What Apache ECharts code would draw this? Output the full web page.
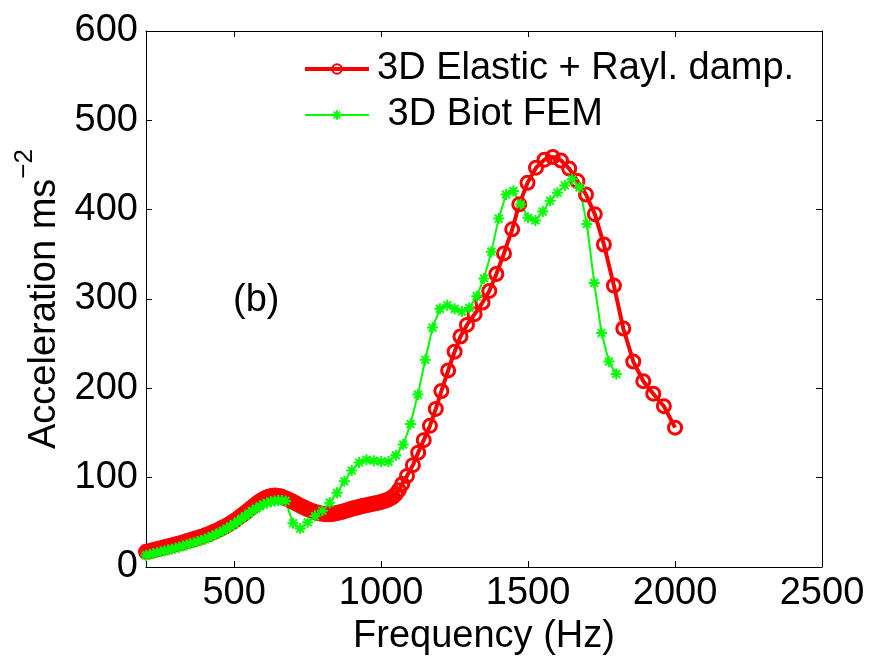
<!DOCTYPE html>
<html>
<head>
<meta charset="utf-8">
<script src="https://cdn.jsdelivr.net/npm/echarts@6/dist/echarts.min.js"></script>
<style>
html,body{margin:0;padding:0;background:#fff;}
#c{width:872px;height:662px;}
</style>
</head>
<body>
<div id="c"></div>
<script>
// ---- data ----
var xTicks = [500, 1000, 1500, 2000, 2500];
var yTicks = [0, 100, 200, 300, 400, 500, 600];

var elasticName = '3D Elastic + Rayl. damp.';
var elasticFreq = [200,210,220,230,240,250,260,270,280,290,300,310,320,330,340,350,360,370,380,390,
  400,410,420,430,440,450,460,470,480,490,500,510,520,530,540,550,560,570,580,590,
  600,610,620,630,640,650,660,670,680,690,700,710,720,730,740,750,760,770,780,790,
  800,810,820,830,840,850,860,870,880,890,900,910,920,930,940,950,960,970,980,990,
  1000,1010,1020,1030,1040,1050,1060,
  1072,1088,1108,1126,1145,1166,1186,1205,1228,1250,1270,1292,1318,1345,1368,1392,1418,1446,1470,1498,
  1527,1556,1584,1612,1640,1668,1697,1727,1758,1792,1824,1858,1892,1926,1962,2000];
var elasticAcc = [17,17.7,18.4,19.3,20.1,21,21.8,22.6,23.5,24.4,25.3,26.1,27,28,29,30,31,32,33,34,
  35.2,36.5,37.8,39.2,40.6,42.2,43.8,45.5,47.4,49.4,51.5,53.8,56.3,58.8,61.3,64,66.6,69.3,71.9,74.2,
  76.2,77.8,79,79.8,80,79.6,78.8,77.6,76.2,74.6,73,71.3,69.5,67.8,66.2,64.7,63.3,62.1,61,60.1,
  59.5,59.1,59,59.2,59.7,60.4,61.2,62.1,63.1,64.1,65.1,66,66.9,67.7,68.5,69.2,69.9,70.6,71.3,72,
  72.8,73.8,75,76.5,78.5,81.5,86,
  93,102,114,128,142,158,177,197,220,241,258,271,283,296,309,328,351,378,406,430,
  447,456,459,455,446,432,417,395,361,315,267,230,208,194,180,156];

var biotName = ' 3D Biot FEM';
var biotFreq = [200,212.5,225,237.5,250,262.5,275,287.5,300,312.5,325,337.5,350,362.5,375,387.5,
  400,412.5,425,437.5,450,462.5,475,487.5,500,512.5,525,537.5,550,562.5,575,587.5,600,612.5,625,637.5,
  650,662.5,675,
  700,725,750,775,800,825,850,875,900,925,950,975,1000,1025,1050,1075,1100,1125,1150,1175,
  1200,1225,1250,1275,1300,1325,1350,1375,1400,1425,1450,1475,1500,1525,1550,1575,1600,1625,1650,1675,
  1700,1725,1750,1775,1800];
var biotAcc = [13,14,15,16,17,18,19,20,21,22.2,23.5,24.7,26,27.2,28.5,29.7,
  31,32.7,34.5,36.5,38.5,40.7,43,45.5,48,51,54,57,60,63,65.5,68,70,71.7,73,74,
  74.5,74.5,74,
  49,43,50,57,63,72,83,96,108,117,120,119,118,118,125,137,160,193,232,268,
  289,293,289,286,290,303,323,353,390,417,421,406,391,388,398,410,419,427,434,425,
  384,318,262,230,216];

var panelLabel = '(b)';
var panelLabelAt = [575, 298];

// ---- build ----
function pairs(xs, ys){ var out=[]; for(var i=0;i<xs.length;i++){ out.push([xs[i], ys[i]]); } return out; }

var FONT = 'Liberation Sans, Arial, Helvetica, sans-serif';
var FS = 38;
var chart = echarts.init(document.getElementById('c'), null, {renderer:'canvas'});

var asterisk = 'path://M10 0L10 20M0 10L20 10M3 3L17 17M17 3L3 17';

var option = {
  animation: false,
  backgroundColor: '#fff',
  textStyle: {fontFamily: FONT},
  grid: {left: 146, right: 50, top: 31, bottom: 95, containLabel: false},
  legend: {
    orient: 'vertical',
    left: 303, top: 50, padding: 0,
    itemWidth: 64, itemHeight: 12, itemGap: 8,
    lineStyle: {width: 'inherit'},
    textStyle: {fontSize: FS, fontFamily: FONT, color: '#000', lineHeight: FS, padding: [0,0,0,3]},
    data: [elasticName, biotName]
  },
  xAxis: [{
    type: 'value', min: 200, max: 2500, position: 'bottom',
    name: 'Frequency (Hz)', nameLocation: 'middle', nameGap: 44,
    nameTextStyle: {fontSize: FS, color: '#000', fontFamily: FONT},
    axisLine: {show: true, onZero: false, lineStyle: {color: '#000', width: 1}},
    axisTick: {show: true, inside: true, length: 6, customValues: xTicks, lineStyle: {color: '#000'}},
    axisLabel: {show: true, fontSize: FS, color: '#000', margin: 8, fontFamily: FONT, customValues: xTicks,
      formatter: function(v){ return String(v); }},
    splitLine: {show: false}
  }, {
    type: 'value', min: 200, max: 2500, position: 'top',
    axisLine: {show: true, onZero: false, lineStyle: {color: '#000', width: 1}},
    axisTick: {show: true, inside: true, length: 6, customValues: xTicks, lineStyle: {color: '#000'}},
    axisLabel: {show: false},
    splitLine: {show: false}
  }],
  yAxis: [{
    type: 'value', min: 0, max: 600, interval: 100, position: 'left',
    name: '{a|Acceleration ms}{s|\u22122}', nameLocation: 'middle', nameGap: 78,
    nameTextStyle: {
      color: '#000', fontFamily: FONT,
      rich: {
        a: {fontSize: FS, lineHeight: 52, verticalAlign: 'bottom', color: '#000', fontFamily: FONT},
        s: {fontSize: 26, lineHeight: 26, verticalAlign: 'top', color: '#000', fontFamily: FONT}
      }
    },
    axisLine: {show: true, onZero: false, lineStyle: {color: '#000', width: 1}},
    axisTick: {show: true, inside: true, length: 6, lineStyle: {color: '#000'}},
    axisLabel: {show: true, fontSize: FS, color: '#000', margin: 8, fontFamily: FONT,
      formatter: function(v){ return String(v); }},
    splitLine: {show: false}
  }, {
    type: 'value', min: 0, max: 600, interval: 100, position: 'right',
    axisLine: {show: true, onZero: false, lineStyle: {color: '#000', width: 1}},
    axisTick: {show: true, inside: true, length: 6, lineStyle: {color: '#000'}},
    axisLabel: {show: false},
    splitLine: {show: false}
  }],
  series: [{
    name: elasticName, type: 'line', xAxisIndex: 0, yAxisIndex: 0,
    data: pairs(elasticFreq, elasticAcc),
    showSymbol: true, symbol: 'circle', symbolSize: 13,
    itemStyle: {color: 'rgba(255,0,0,0)', borderColor: '#ff0000', borderWidth: 3},
    lineStyle: {color: '#ff0000', width: 4},
    emphasis: {disabled: true}
  }, {
    name: biotName, type: 'line', xAxisIndex: 0, yAxisIndex: 0,
    data: pairs(biotFreq, biotAcc),
    showSymbol: true, symbol: asterisk, symbolSize: 11,
    itemStyle: {color: 'rgba(0,255,0,0)', borderColor: '#00ff00', borderWidth: 2},
    lineStyle: {color: '#00ff00', width: 2},
    emphasis: {disabled: true}
  }]
};
chart.setOption(option);

var p = chart.convertToPixel({xAxisIndex: 0, yAxisIndex: 0}, panelLabelAt);
chart.setOption({
  graphic: [{
    type: 'text', x: p[0], y: p[1],
    style: {text: panelLabel, fontSize: FS, fontFamily: FONT, fill: '#000', align: 'center', verticalAlign: 'middle'}
  }]
});
</script>
</body>
</html>
